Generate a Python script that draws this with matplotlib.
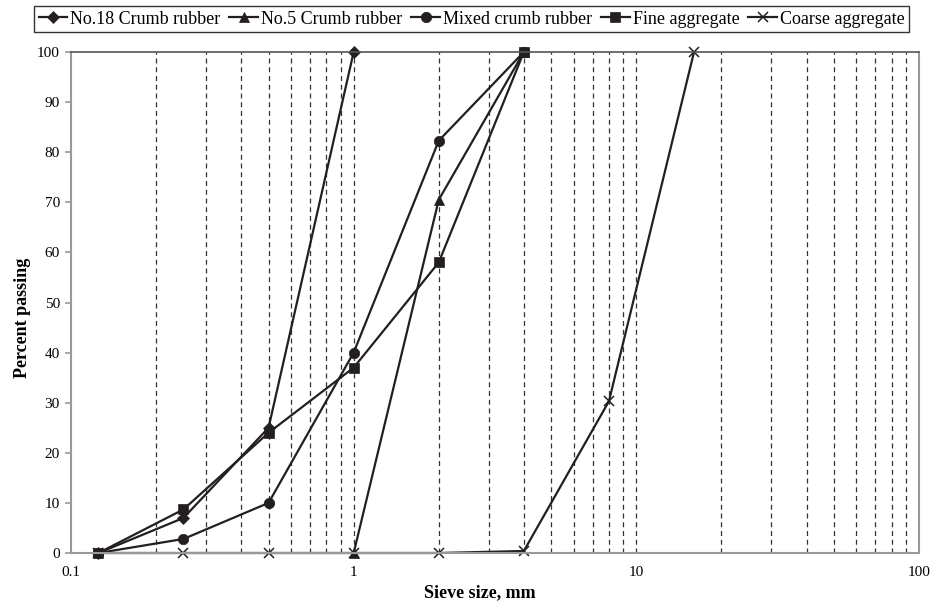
import matplotlib.pyplot as plt
from matplotlib.ticker import FixedLocator, NullFormatter

plt.rcParams['font.family'] = ['Liberation Serif', 'DejaVu Serif']

sieve = [0.125, 0.25, 0.5, 1, 2, 4, 8, 16]

no18 = [0, 7, 25, 100]
no5_x = [1, 2, 4]
no5 = [0, 70.5, 100]
mixed = [0, 2.8, 10, 40, 82.3, 100]
fine = [0, 8.7, 24, 37, 58, 100]
coarse = [0, 0, 0, 0, 0, 0.4, 30.3, 100]

series = [
    ("No.18 Crumb rubber", sieve[:4], no18, "D", 6),
    ("No.5 Crumb rubber", no5_x, no5, "^", 7.5),
    ("Mixed crumb rubber", sieve[:6], mixed, "o", 7.5),
    ("Fine aggregate", sieve[:6], fine, "s", 7),
    ("Coarse aggregate", sieve, coarse, "x", 7),
]

fig = plt.figure(figsize=(9.35, 6.03), dpi=100)
ax = fig.add_axes([71 / 935, 1 - 553 / 603, (919 - 71) / 935, (553 - 52) / 603])

for label, x, y, m, ms in series:
    ax.plot(x, y, color="#231f20", lw=1.6, marker=m, markersize=ms,
            markeredgewidth=1.1 if m == "x" else 0.5, label=label, clip_on=False)

ax.set_xscale("log")
ax.set_xlim(0.1, 100)
ax.set_ylim(0, 100)
ax.set_yticks(range(0, 101, 10))
ax.set_xticks([0.1, 1, 10, 100])
ax.set_xticklabels(["0.1", "1", "10", "100"])
minors = [m * d for d in (0.1, 1, 10) for m in range(2, 10)]
ax.xaxis.set_minor_locator(FixedLocator(minors))
ax.xaxis.set_minor_formatter(NullFormatter())
ax.tick_params(axis="x", which="both", length=0, labelsize=11, pad=9)
ax.tick_params(axis="y", length=4, width=1.2, color="#999999", labelsize=11, pad=4)

for v in minors + [1, 10]:
    ax.axvline(v, color="#333333", lw=0.9, ls=(0, (4, 3)), zorder=0)

for s in ("left", "bottom", "right"):
    ax.spines[s].set_color("#999999")
    ax.spines[s].set_linewidth(1.5)
ax.spines["top"].set_color("#555555")
ax.spines["top"].set_linewidth(1.2)

ax.set_xlabel("Sieve size, mm", fontsize=13, fontweight="bold")
ax.set_ylabel("Percent passing", fontsize=13, fontweight="bold")
ax.xaxis.set_label_coords(0.482, -0.062)
ax.yaxis.set_label_coords(-0.047, 0.47)

leg = fig.legend(loc="upper left", bbox_to_anchor=(34 / 935, 1 - 6 / 603), ncol=5,
                 fontsize=13, frameon=True, fancybox=False, edgecolor="black",
                 handlelength=1.6, handletextpad=0.15, columnspacing=0.5,
                 borderpad=0.25, borderaxespad=0)
leg.get_frame().set_linewidth(1.0)

fig.savefig("out.png", dpi=100)
